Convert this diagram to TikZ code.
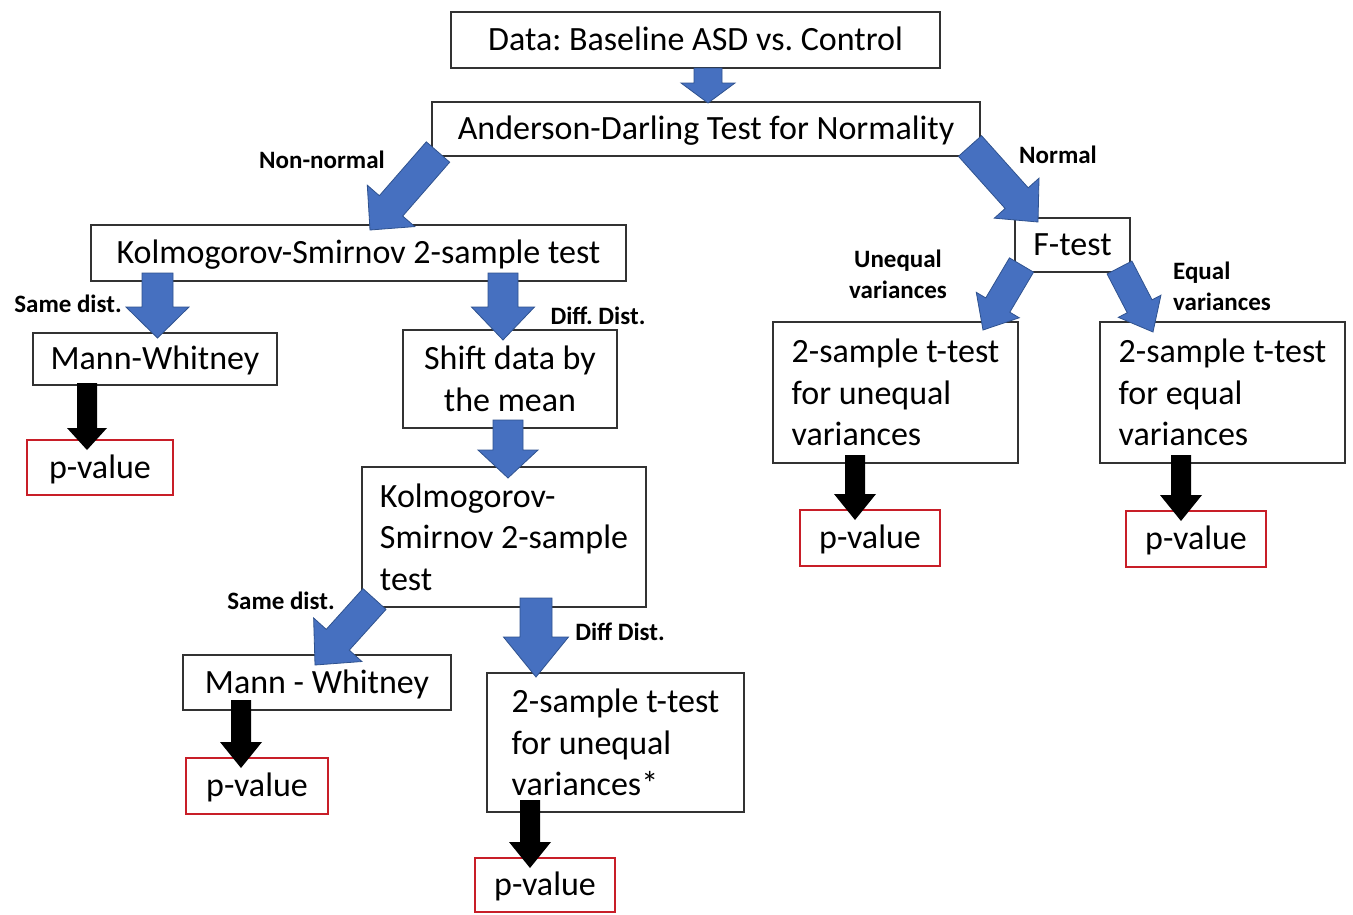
\documentclass[tikz,border=0pt]{standalone}
\usepackage{fontspec}
\setmainfont{Carlito}
\usetikzlibrary{calc}
\frenchspacing
\definecolor{arrblue}{RGB}{70,112,192}
\definecolor{arredge}{RGB}{47,82,143}
\definecolor{pvred}{RGB}{200,30,40}
\definecolor{boxline}{RGB}{50,50,50}
% #1 style, #2 tail coordinate, #3 tip coordinate, #4 half shaft width, #5 half head width, #6 head length
\newcommand\blockarrow[6]{%
  \coordinate (bah) at ($(#3)!#6pt!(#2)$);
  \path[#1] ($(#2)!#4pt!90:(#3)$) -- ($(bah)!#4pt!90:(#3)$) -- ($(bah)!#5pt!90:(#3)$)
    -- (#3) -- ($(bah)!#5pt!-90:(#3)$) -- ($(bah)!#4pt!-90:(#3)$) -- ($(#2)!#4pt!-90:(#3)$) -- cycle;}
\tikzset{
  box/.style={draw=boxline, line width=2.2pt, fill=white, inner sep=0pt,
    font=\fontsize{34}{41.5}\selectfont, align=center},
  sbox/.style={box, text height=24pt, text depth=3pt},
  lbox/.style={box, align=left},
  pbox/.style={sbox, draw=pvred},
  lbl/.style={font=\fontsize{25}{31}\selectfont\bfseries, inner sep=0pt, align=center},
  bluearrow/.style={fill=arrblue, draw=arredge, line width=0.8pt},
  blackarrow/.style={fill=black}
}
\begin{document}
\begin{tikzpicture}[x=1pt,y=-1pt]
\useasboundingbox[fill=white] (0,0) rectangle (1353,914);
% boxes
\node[sbox, minimum width=489pt, minimum height=56pt] (data) at (695.5,40) {Data: Baseline ASD vs. Control};
\node[sbox, minimum width=548pt, minimum height=54pt] (ad) at (706,129) {Anderson-Darling Test for Normality};
\node[sbox, minimum width=535pt, minimum height=56pt] (ks) at (358.5,253) {Kolmogorov-Smirnov 2-sample test};
\node[sbox, minimum width=115pt, minimum height=54pt] (ftest) at (1072.5,245) {F-test};
\node[sbox, minimum width=244pt, minimum height=52pt] (mw1) at (155,359) {Mann-Whitney};
\node[box, minimum width=214pt, minimum height=98pt] (shift) at (510,379) {Shift data by\\the mean};
\node[pbox, minimum width=146pt, minimum height=55pt] (pv1) at (100,467.5) {p-value};
\node[lbox, minimum width=284pt, minimum height=140pt] (ks2) at (504,537) {Kolmogorov-\\Smirnov 2-sample\\test};
\node[sbox, minimum width=268pt, minimum height=55pt] (mw2) at (317,682.5) {Mann - Whitney};
\node[lbox, minimum width=257pt, minimum height=139pt] (tt3) at (615.5,742.5) {2-sample t-test\\for unequal\\variances*};
\node[pbox, minimum width=142pt, minimum height=56pt] (pv4) at (257,786) {p-value};
\node[pbox, minimum width=140pt, minimum height=54pt] (pv5) at (545,885) {p-value};
\node[lbox, minimum width=245pt, minimum height=141pt] (tt1) at (895.5,392.5) {2-sample t-test\\for unequal\\variances};
\node[lbox, minimum width=245pt, minimum height=141pt] (tt2) at (1222.5,392.5) {2-sample t-test\\for equal\\variances};
\node[pbox, minimum width=140pt, minimum height=56pt] (pv2) at (870,538) {p-value};
\node[pbox, minimum width=140pt, minimum height=56pt] (pv3) at (1196,539) {p-value};
% connector end points
\coordinate (a1s) at (708,68);     \coordinate (a1e) at (708,103);
\coordinate (a2s) at (438,152);    \coordinate (a2e) at (370,230);
\coordinate (a3s) at (970,146);    \coordinate (a3e) at (1038,222);
\coordinate (a4s) at (157.5,273);  \coordinate (a4e) at (157.5,338);
\coordinate (a5s) at (503,273);    \coordinate (a5e) at (503,340);
\coordinate (a6s) at (508,420);    \coordinate (a6e) at (508,478);
\coordinate (a7s) at (374.5,599);  \coordinate (a7e) at (315,665);
\coordinate (a8s) at (536,598);    \coordinate (a8e) at (536,677);
\coordinate (a9s) at (1021.5,265); \coordinate (a9e) at (983,330);
\coordinate (a10s) at (1119.5,267.5); \coordinate (a10e) at (1153,332);
\coordinate (k1s) at (87,383);     \coordinate (k1e) at (87,450);
\coordinate (k2s) at (855,455);    \coordinate (k2e) at (855,520);
\coordinate (k3s) at (1181,455);   \coordinate (k3e) at (1181,521);
\coordinate (k4s) at (241,700);    \coordinate (k4e) at (241,768);
\coordinate (k5s) at (530,800);    \coordinate (k5e) at (530,868);
% blue block arrows
\blockarrow{bluearrow}{a1s}{a1e}{14}{27}{20}
\blockarrow{bluearrow}{a2s}{a2e}{15.5}{31.5}{32}
\blockarrow{bluearrow}{a3s}{a3e}{15.5}{30}{32}
\blockarrow{bluearrow}{a4s}{a4e}{15.5}{31.5}{31}
\blockarrow{bluearrow}{a5s}{a5e}{15}{31.5}{33}
\blockarrow{bluearrow}{a6s}{a6e}{15}{30}{28}
\blockarrow{bluearrow}{a7s}{a7e}{15.5}{32.5}{34}
\blockarrow{bluearrow}{a8s}{a8e}{16}{32.5}{40}
\blockarrow{bluearrow}{a9s}{a9e}{14}{25}{29}
\blockarrow{bluearrow}{a10s}{a10e}{14}{24}{29}
% black block arrows
\blockarrow{blackarrow}{k1s}{k1e}{10}{20}{22}
\blockarrow{blackarrow}{k2s}{k2e}{10}{21}{26}
\blockarrow{blackarrow}{k3s}{k3e}{10}{21}{26}
\blockarrow{blackarrow}{k4s}{k4e}{10}{21}{26}
\blockarrow{blackarrow}{k5s}{k5e}{10}{21}{26}
% labels
\node[lbl] (lnn) at (322,160) {Non-normal};
\node[lbl] (lnorm) at (1058,155) {Normal};
\node[lbl] (lsame1) at (68,304) {Same dist.};
\node[lbl] (ldiff1) at (598,316) {Diff. Dist.};
\node[lbl] (luneq) at (898,274) {Unequal\\variances};
\node[lbl, align=left, anchor=west] (leq) at (1173,286) {Equal\\variances};
\node[lbl] (lsame2) at (281,601) {Same dist.};
\node[lbl] (ldiff2) at (620,632) {Diff Dist.};
\end{tikzpicture}
\end{document}
